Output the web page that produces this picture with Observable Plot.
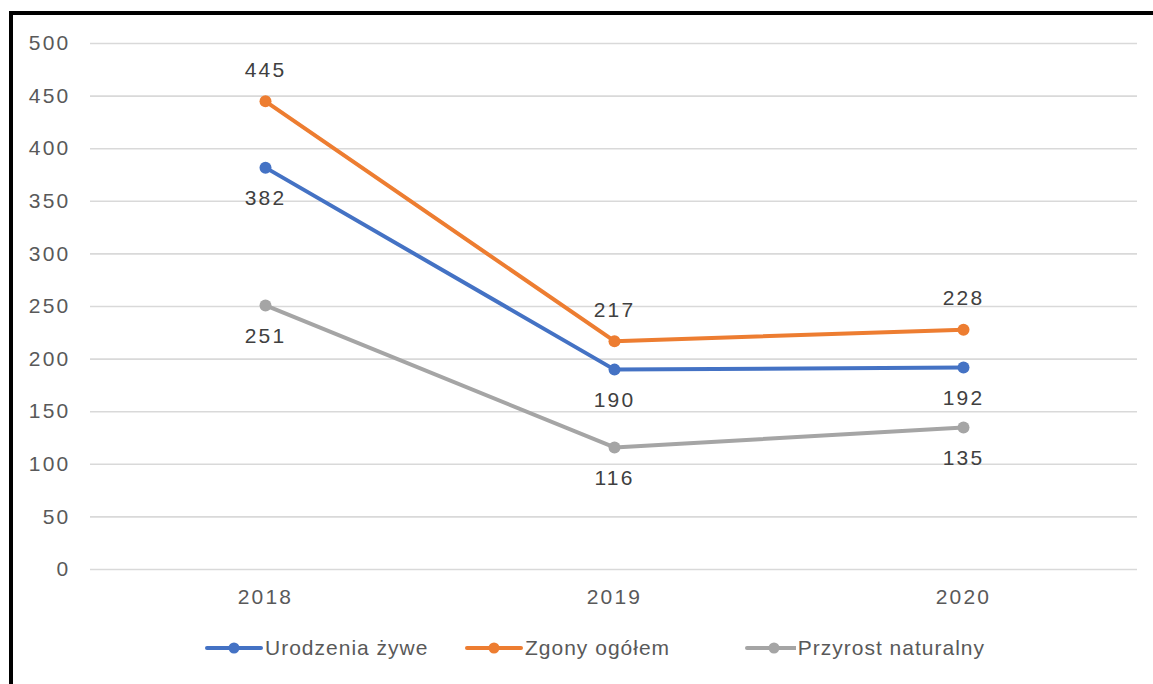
<!DOCTYPE html>
<html>
<head>
<meta charset="utf-8">
<script src="https://cdn.jsdelivr.net/npm/d3@7"></script>
<script src="https://cdn.jsdelivr.net/npm/@observablehq/plot@0.6"></script>
<style>
  html, body { margin: 0; padding: 0; background: #fff; overflow: hidden; }
  #frame {
    position: absolute; left: 9px; top: 11px; width: 1160px; height: 700px;
    border-left: 4px solid #000; border-top: 4px solid #000; box-sizing: border-box;
    font-family: "Liberation Sans", Arial, sans-serif;
  }
  #legend {
    position: absolute; left: 192px; top: 621px; height: 24px;
    display: flex; align-items: center;
    font-size: 21px; color: #595959; letter-spacing: 1px;
  }
  .item { display: flex; align-items: center; white-space: nowrap; }
  .item svg { margin-right: 2px; }
</style>
</head>
<body>
<div id="frame">
  <div id="chart"></div>
  <div id="legend"></div>
</div>
<script>
const years = ["2018", "2019", "2020"];
const seriesNames = ["Urodzenia żywe", "Zgony ogółem", "Przyrost naturalny"];
const urodzenia = [382, 190, 192];
const zgony = [445, 217, 228];
const przyrost = [251, 116, 135];
const colors = ["#4472C4", "#ED7D31", "#A5A5A5"];
const yTicks = [0, 50, 100, 150, 200, 250, 300, 350, 400, 450, 500];

const seriesValues = [urodzenia, zgony, przyrost];
const labelOffsets = [31, -31, 31];
const data = [];
seriesNames.forEach((s, i) => {
  years.forEach((y, j) => data.push({series: s, year: y, value: seriesValues[i][j], dy: labelOffsets[i]}));
});

const plot = Plot.plot({
  width: 1140,
  height: 604,
  marginLeft: 77,
  marginRight: 16,
  marginTop: 28,
  marginBottom: 50,
  style: {fontFamily: "Liberation Sans, Arial, sans-serif", fontSize: "21px", color: "#595959", background: "#fff", letterSpacing: "2.2px"},
  x: {type: "point", domain: years, padding: 0.5, label: null},
  y: {domain: [0, 500], label: null},
  color: {domain: seriesNames, range: colors},
  marks: [
    Plot.gridY(yTicks, {stroke: "#d9d9d9", strokeOpacity: 1, strokeWidth: 1.6}),
    Plot.axisY({ticks: yTicks, tickSize: 0, tickPadding: 20, label: null, fill: "#595959"}),
    Plot.axisX({tickSize: 0, tickPadding: 20, label: null, fill: "#595959"}),
    Plot.line(data, {x: "year", y: "value", z: "series", stroke: "series", strokeWidth: 4, strokeLinecap: "round"}),
    Plot.dot(data, {x: "year", y: "value", fill: "series", r: 6}),
    Plot.text(data.filter(d => d.dy < 0), {x: "year", y: "value", text: d => String(d.value), dy: -31, fill: "#404040"}),
    Plot.text(data.filter(d => d.dy > 0), {x: "year", y: "value", text: d => String(d.value), dy: 31, fill: "#404040"})
  ]
});
document.getElementById("chart").appendChild(plot);

const legend = document.getElementById("legend");
const itemWidths = [260, 280, 240];
seriesNames.forEach((s, i) => {
  const item = document.createElement("div");
  item.className = "item";
  item.style.width = itemWidths[i] + "px";
  item.innerHTML = `<svg width="58" height="20"><line x1="2" y1="10" x2="56" y2="10" stroke="${colors[i]}" stroke-width="4" stroke-linecap="round"/><circle cx="29" cy="10" r="5.5" fill="${colors[i]}"/></svg><span>${s}</span>`;
  legend.appendChild(item);
});
</script>
</body>
</html>
